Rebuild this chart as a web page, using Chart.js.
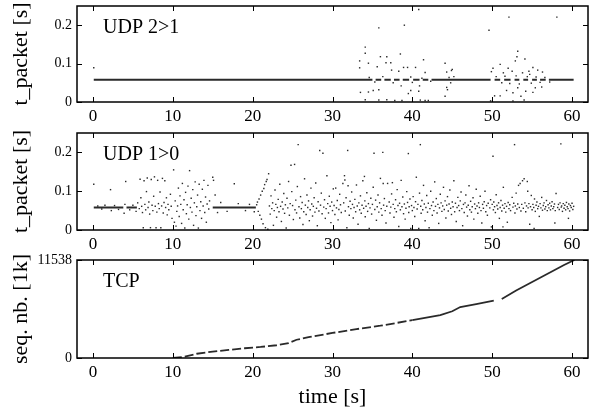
<!DOCTYPE html>
<html>
<head>
<meta charset="utf-8">
<script src="https://cdn.jsdelivr.net/npm/chart.js@4.4.0/dist/chart.umd.min.js"></script>
<style>
  html, body { margin:0; padding:0; background:#fff; }
  #wrap { position:relative; width:589px; height:412px; }
  canvas { position:absolute; left:0; }
</style>
</head>
<body>
<div id="wrap">
  <canvas id="c1" width="589" height="128" style="top:0"></canvas>
  <canvas id="c2" width="589" height="128" style="top:128px"></canvas>
  <canvas id="c3" width="589" height="168" style="top:244px"></canvas>
</div>
<script>
// time axis, shared by all three panels
const timeTicks = [0, 10, 20, 30, 40, 50, 60];
const timeMin = -2, timeMax = 62;

// ---- UDP 2>1 : packet inter-arrival time [s]
const udp21Level = 0.058;
const udp21Segments = [[0.1, 35.0], [35.4, 36.1], [36.5, 37.3], [37.7, 38.4], [38.8, 39.6], [40.1, 40.9], [41.3, 42.0], [42.4, 49.8],
  [50.3, 51.0], [51.5, 52.3], [52.8, 53.4], [53.9, 54.5], [55.0, 55.6], [56.0, 56.7], [57.1, 60.2]];
const udp21Points = [[0.1,0.089],
  [33.4,0.107],[33.4,0.089],[33.5,0.025],[34.1,0.143],[34.1,0.127],[34.5,0.101],[34.5,0.026],[34.1,0.006],[35.1,0.03],[35.6,0.092],
  [35.8,0.193],[35.8,0.032],[35.8,0.005],[36.0,0.118],[36.7,0.102],[36.8,0.118],[36.8,0.006],[37.3,0.102],[37.4,0.083],[37.8,0.004],
  [38.3,0.08],[38.5,0.125],[38.6,0.042],[38.7,0.004],[38.9,0.09],[39.0,0.2],[39.4,0.09],[39.5,0.022],[39.8,0.03],[40.4,0.09],
  [40.8,0.241],[40.8,0.028],[40.9,0.042],[41.4,0.11],[41.6,0.077],[41.0,0.005],[41.6,0.004],[42.0,0.004],[44.1,0.101],[44.3,0.078],
  [44.3,0.038],[44.4,0.032],[44.1,0.015],[44.9,0.082],[45.0,0.085],
  [34.6,0.064],[35.3,0.052],[36.3,0.066],[37.6,0.05],[39.8,0.065],[40.0,0.051],[41.2,0.062],[42.3,0.054],[44.6,0.064],[44.8,0.05],[45.2,0.066],
  [49.6,0.187],[49.8,0.003],[49.9,0.079],[50.1,0.088],[50.3,0.016],[51.0,0.098],[51.0,0.016],[51.4,0.076],[51.8,0.03],[52.0,0.088],
  [52.1,0.221],[52.5,0.08],[52.6,0.024],[52.6,0.003],[52.9,0.107],[53.1,0.118],[53.2,0.132],[53.2,0.037],[53.6,0.015],[53.8,0.076],
  [54.0,0.005],[54.1,0.112],[54.2,0.028],[54.6,0.08],[54.7,0.072],[55.1,0.09],[55.1,0.025],[55.4,0.037],[55.7,0.083],[56.2,0.039],
  [56.3,0.078],[58.1,0.221],
  [50.5,0.066],[51.2,0.05],[51.6,0.067],[52.2,0.048],[53.0,0.068],[53.4,0.047],[54.4,0.066],[54.9,0.049],[55.5,0.065],[56.0,0.051],
  [56.6,0.064],[57.2,0.052]];

// ---- UDP 1>0
const udp10Level = 0.058;
const udp10Segments = [[0.1, 3.8], [4.2, 5.5], [15.0, 20.4]];
const udp10Early = [[0.1,0.118],[0.6,0.062],[1.1,0.054],[1.5,0.064],[2.2,0.104],[2.3,0.05],[2.7,0.063],[3.2,0.053],[3.9,0.043],[4.0,0.066],
  [4.1,0.125],[4.6,0.052],[5.0,0.064],[5.4,0.048],[5.6,0.07],[5.8,0.055],[5.9,0.131],[6.0,0.083],[6.1,0.061],[6.2,0.045],[6.3,0.006],
  [6.4,0.127],[6.5,0.066],[6.6,0.052],[6.7,0.099],[6.8,0.134],[6.9,0.058],[7.0,0.072],[7.1,0.041],[7.2,0.006],[7.3,0.13],[7.4,0.064],
  [7.5,0.05],[7.6,0.087],[7.7,0.137],[7.8,0.061],[7.9,0.006],[8.0,0.046],[8.1,0.128],[8.2,0.068],[8.3,0.055],[8.4,0.098],[8.5,0.006],
  [8.6,0.062],[8.7,0.133],[8.8,0.044],[8.9,0.071],[9.0,0.127],[9.1,0.058],[9.2,0.083],[9.3,0.039],[9.4,0.066],[9.5,0.052],[9.7,0.092],
  [9.8,0.061],[9.9,0.03]];
const udp10Mid = [[10.1,0.155],[10.2,0.02],[10.3,0.075],[10.4,0.01],[10.5,0.048],[10.6,0.062],[10.7,0.108],[10.8,0.035],[10.9,0.088],
  [11.0,0.066],[11.1,0.017],[11.2,0.12],[11.3,0.052],[11.4,0.078],[11.5,0.005],[11.6,0.097],[11.7,0.042],[11.8,0.065],[11.9,0.113],
  [12.0,0.028],[12.1,0.153],[12.2,0.058],[12.3,0.082],[12.4,0.046],[12.5,0.104],[12.6,0.012],[12.7,0.07],[12.8,0.124],[12.9,0.037],
  [13.0,0.06],[13.1,0.09],[13.2,0.005],[13.3,0.118],[13.4,0.05],[13.5,0.073],[13.6,0.03],[13.7,0.105],[13.8,0.062],[13.9,0.128],
  [14.0,0.045],[14.1,0.085],[14.2,0.02],[14.3,0.067],[14.4,0.115],[14.5,0.054],[14.6,0.075],
  [15.0,0.136],[15.1,0.128],[15.3,0.09],[15.6,0.045],[16.0,0.071],[16.8,0.048],[17.7,0.119],[18.2,0.068],[19.1,0.05],[19.6,0.066],[20.2,0.047],
  [20.5,0.065],[20.6,0.072],[20.7,0.048],[20.8,0.08],[20.9,0.038],[21.0,0.09],[21.1,0.028],[21.2,0.1],[21.3,0.016],[21.4,0.107],
  [21.5,0.117],[21.6,0.006],[21.7,0.125],[21.8,0.13],[21.9,0.002],[22.0,0.145]];
const udp10Late = [[22.1,0.062],[22.2,0.041],[22.3,0.088],[22.4,0.055],[22.5,0.07],[22.6,0.012],[22.7,0.05],[22.8,0.103],[22.9,0.066],
  [23.0,0.033],[23.1,0.058],[23.2,0.079],[23.3,0.047],[23.4,0.118],[23.5,0.061],[23.6,0.022],[23.7,0.072],[23.8,0.054],[23.9,0.094],
  [24.0,0.043],[24.1,0.065],[24.2,0.005],[24.3,0.082],[24.4,0.057],[24.5,0.125],[24.6,0.038],[24.7,0.068],[24.8,0.167],[24.9,0.099],
  [25.0,0.063],[25.1,0.027],[25.25,0.169],[25.3,0.052],[25.4,0.077],[25.5,0.044],[25.7,0.22],[25.6,0.112],[25.8,0.06],[25.9,0.031],
  [26.0,0.086],[26.1,0.055],[26.2,0.071],[26.3,0.014],[26.4,0.047],[26.5,0.132],[26.6,0.064],[26.7,0.04],[26.8,0.09],[26.9,0.058],
  [27.0,0.075],[27.1,0.024],[27.2,0.052],[27.3,0.108],[27.4,0.067],[27.5,0.036],[27.6,0.061],[27.7,0.083],[27.8,0.046],[27.9,0.121],
  [28.0,0.056],[28.1,0.011],[28.2,0.073],[28.3,0.049],[28.4,0.205],[28.5,0.064],[28.6,0.095],[28.7,0.042],[28.8,0.198],[28.9,0.059],
  [29.0,0.078],[29.1,0.03],[29.2,0.055],[29.3,0.14],[29.4,0.068],[29.5,0.044],[29.6,0.087],[29.7,0.061],[29.8,0.019],[29.9,0.072],
  [30.0,0.05],[30.1,0.106],[30.2,0.063],[30.3,0.04],[30.4,0.108],[30.5,0.057],[30.6,0.076],[30.7,0.026],[30.8,0.053],[30.9,0.092],
  [31.0,0.065],[31.1,0.045],[31.3,0.12],[31.4,0.07],[31.5,0.14],[31.55,0.129],[31.6,0.049],[31.7,0.083],[31.8,0.006],[31.9,0.205],
  [31.95,0.114],[32.0,0.06],[32.1,0.038],[32.2,0.074],[32.3,0.055],[32.4,0.098],[32.5,0.066],[32.6,0.031],[32.7,0.058],[32.8,0.079],
  [32.9,0.047],[33.0,0.116],[33.1,0.062],[33.2,0.015],[33.3,0.07],[33.4,0.052],[33.5,0.088],[33.6,0.043],[33.7,0.064],[33.8,0.127],
  [33.9,0.056],[34.0,0.138],[34.05,0.075],[34.1,0.034],[34.2,0.061],[34.3,0.096],[34.4,0.048],[34.5,0.068],[34.6,0.004],[34.7,0.057],
  [34.8,0.082],[34.9,0.041],[35.0,0.066],[35.1,0.11],[35.2,0.198],[35.3,0.053],[35.4,0.077],[35.5,0.025],[35.6,0.06],[35.7,0.09],
  [35.8,0.046],[35.9,0.07],[36.0,0.133],[36.1,0.055],[36.2,0.038],[36.3,0.2],[36.35,0.12],[36.4,0.064],[36.5,0.081],[36.6,0.05],
  [36.7,0.018],[36.8,0.061],[36.9,0.12],[37.1,0.072],[37.2,0.044],[37.3,0.059],[37.4,0.093],[37.5,0.122],[37.6,0.066],[37.7,0.033],
  [37.8,0.055],[37.9,0.078],[38.0,0.047],[38.1,0.104],[38.2,0.063],[38.3,0.009],[38.4,0.069],[38.5,0.052],[38.6,0.128],[38.7,0.06],
  [38.8,0.085],[38.9,0.042],[39.0,0.067],[39.1,0.028],[39.2,0.056],[39.3,0.099],[39.4,0.071],[39.5,0.197],[39.55,0.045],[39.6,0.06],
  [39.7,0.08],[39.8,0.004],[39.9,0.063],[40.0,0.05],[40.1,0.086],[40.2,0.058],[40.3,0.035],[40.4,0.073],[40.5,0.136],[40.6,0.054],
  [40.7,0.066],[40.8,0.004],[40.9,0.095],[41.0,0.22],[41.05,0.061],[41.1,0.043],[41.2,0.076],[41.3,0.052],[41.4,0.115],[41.5,0.067],
  [41.6,0.024],[41.7,0.058],[41.8,0.089],[41.9,0.046],[42.0,0.069],[42.1,0.006],[42.2,0.055],[42.3,0.1],[42.4,0.063],[42.5,0.038],
  [42.6,0.072],[42.7,0.05],[42.8,0.124],[42.9,0.061],[43.0,0.081],[43.1,0.044],[43.2,0.066],[43.3,0.017],[43.4,0.057],[43.5,0.092],
  [43.6,0.07],[43.7,0.048],[43.8,0.062],[43.9,0.11],[44.0,0.053],[44.1,0.075],[44.2,0.031],[44.3,0.064],[44.4,0.086],[44.5,0.049],
  [44.6,0.067],[44.7,0.103],[44.8,0.056],[44.9,0.04],[45.0,0.072],[45.1,0.06],[45.2,0.127],[45.3,0.047],[45.4,0.069],[45.5,0.022],
  [45.6,0.058],[45.7,0.084],[45.8,0.063],[45.9,0.05],[46.0,0.075],[46.1,0.098],[46.2,0.055],[46.3,0.011],[46.4,0.066],[46.5,0.045],
  [46.6,0.07],[46.7,0.09],[46.8,0.059],[46.9,0.036],[47.0,0.064],[47.1,0.114],[47.2,0.052],[47.3,0.074],[47.4,0.046],[47.5,0.06],
  [47.6,0.083],[47.7,0.028],[47.8,0.067],[47.9,0.055],[48.0,0.105],[48.1,0.062],[48.2,0.043],[48.3,0.07],[48.4,0.058],[48.5,0.087],
  [48.6,0.05],[48.7,0.018],[48.8,0.066],[48.9,0.056],[49.0,0.073],[49.1,0.1],[49.2,0.047],[49.3,0.063],[49.4,0.038],[49.5,0.069],
  [49.7,0.057],[49.8,0.078],[49.9,0.008]];
const udp10Tail = [[50.0,0.066],[50.1,0.19],[50.15,0.052],[50.2,0.072],[50.3,0.06],[50.4,0.045],[50.5,0.091],[50.6,0.063],[50.7,0.054],
  [50.8,0.07],[50.9,0.03],[51.0,0.058],[51.1,0.076],[51.2,0.049],[51.3,0.064],[51.35,0.008],[51.4,0.11],[51.5,0.056],[51.6,0.068],
  [51.7,0.046],[51.8,0.061],[51.9,0.02],[52.0,0.071],[52.1,0.055],[52.2,0.065],[52.3,0.05],[52.5,0.084],[52.6,0.059],[52.7,0.069],
  [52.8,0.22],[52.85,0.044],[52.9,0.062],[53.0,0.095],[53.1,0.054],[53.2,0.067],[53.3,0.115],[53.4,0.058],[53.5,0.12],[53.6,0.049],
  [53.7,0.066],[53.8,0.127],[53.9,0.056],[54.0,0.132],[54.1,0.07],[54.2,0.047],[54.3,0.062],[54.4,0.125],[54.45,0.1],[54.5,0.057],
  [54.6,0.068],[54.7,0.015],[54.8,0.06],[54.9,0.089],[55.0,0.052],[55.1,0.066],[55.2,0.058],[55.25,0.004],[55.3,0.08],[55.4,0.048],
  [55.5,0.064],[55.6,0.072],[55.7,0.055],[55.8,0.061],[55.9,0.035],[56.0,0.068],[56.1,0.057],[56.2,0.084],[56.3,0.051],[56.4,0.063],
  [56.5,0.07],[56.6,0.054],[56.7,0.06],[56.8,0.076],[56.9,0.05],[57.0,0.065],[57.1,0.057],[57.2,0.069],[57.3,0.052],[57.4,0.062],
  [57.5,0.073],[57.6,0.055],[57.7,0.06],[57.8,0.067],[57.85,0.018],[57.9,0.05],[58.0,0.094],[58.2,0.058],[58.3,0.066],[58.4,0.053],
  [58.5,0.07],[58.6,0.222],[58.65,0.059],[58.7,0.062],[58.8,0.048],[58.9,0.068],[59.0,0.056],[59.1,0.064],[59.2,0.052],[59.3,0.071],
  [59.4,0.06],[59.5,0.055],[59.55,0.03],[59.6,0.067],[59.7,0.049],[59.8,0.063],[59.9,0.058],[60.0,0.069],[60.1,0.053],[60.2,0.061]];

// ---- TCP sequence number [1k]
const tcpMax = 11538;
const tcpTime = [10, 11.5, 13, 15, 17, 19, 21, 23, 24.5, 25.5, 27, 30, 33, 36, 40, 43.5, 45, 46, 48, 50.2, 50.7, 51.2, 53, 55, 57, 59, 60.3];
const tcpSeq  = [0, 150, 500, 750, 950, 1150, 1300, 1500, 1750, 2150, 2450, 2950, 3400, 3800, 4450, 5050, 5500, 6000, 6350, 6750, null, 6950, 7950, 8950, 9950, 10950, 11538];

const FONT = "'Liberation Serif', 'Times New Roman', serif";
const INK = '#2a2a2a';

function toXY(list) { return list.map(([x, y]) => ({ x, y })); }
function segmentsToLine(segs, level) {
  const pts = [];
  segs.forEach(([a, b]) => { pts.push({ x: a, y: level }, { x: b, y: level }, { x: b, y: null }); });
  return pts;
}

// box + inward ticks (gnuplot look) + panel label
const framePlugin = {
  id: 'frame',
  afterDraw(chart, args, opts) {
    const { ctx, chartArea: a, scales } = chart;
    ctx.save();
    ctx.strokeStyle = '#000';
    ctx.lineWidth = 1;
    ctx.beginPath();
    scales.x.ticks.forEach(t => {
      const px = Math.round(scales.x.getPixelForValue(t.value)) + 0.5;
      ctx.moveTo(px, a.bottom); ctx.lineTo(px, a.bottom - 5);
      ctx.moveTo(px, a.top); ctx.lineTo(px, a.top + 5);
    });
    scales.y.ticks.forEach(t => {
      const py = Math.round(scales.y.getPixelForValue(t.value)) + 0.5;
      ctx.moveTo(a.left, py); ctx.lineTo(a.left + 5, py);
      ctx.moveTo(a.right, py); ctx.lineTo(a.right - 5, py);
    });
    ctx.stroke();
    ctx.lineWidth = 1.5;
    ctx.strokeRect(a.left, a.top, a.width, a.height);
    ctx.fillStyle = '#000';
    ctx.font = '20px ' + FONT;
    ctx.textBaseline = 'alphabetic';
    ctx.fillText(opts.label, a.left + 26, a.top + 27);
    ctx.restore();
  }
};

function xScale(title) {
  return {
    type: 'linear', min: timeMin, max: timeMax,
    grid: { display: false, drawTicks: false },
    border: { display: false },
    afterBuildTicks: s => { s.ticks = timeTicks.map(v => ({ value: v })); },
    afterFit: s => { s.height = title ? 54 : 26; s.paddingLeft = 0; s.paddingRight = 0; },
    ticks: { color: '#000', font: { family: FONT, size: 17 }, padding: 4, maxRotation: 0 },
    title: title ? { display: true, text: title, color: '#000', font: { family: FONT, size: 22 }, padding: { top: 0, bottom: 2 } } : { display: false }
  };
}

function yScale(title, extra) {
  return Object.assign({
    type: 'linear',
    grid: { display: false, drawTicks: false },
    border: { display: false },
    afterFit: s => { s.width = 77; s.paddingTop = 0; s.paddingBottom = 0; },
    title: { display: true, text: title, color: '#000', font: { family: FONT, size: 22 }, padding: { top: 8, bottom: 0 } }
  }, extra);
}

const udpY = {
  min: 0, max: 0.25,
  ticks: {
    stepSize: 0.05, color: '#000', font: { family: FONT, size: 14 }, padding: 5,
    callback: v => (Math.round(v * 100) % 10 === 0 && v < 0.25) ? String(Math.round(v * 10) / 10) : ''
  }
};

const pointStyle = { pointStyle: 'rect', pointRadius: 1, pointBorderWidth: 0, backgroundColor: INK, borderColor: INK, showLine: false };

function baseOptions(topPad, label, xs, ys) {
  return {
    responsive: false, animation: false,
    layout: { autoPadding: false, padding: { top: topPad, right: 1, left: 0, bottom: 0 } },
    plugins: { legend: { display: false }, tooltip: { enabled: false }, frame: { label } },
    scales: { x: xs, y: ys }
  };
}

new Chart(document.getElementById('c1'), {
  type: 'scatter',
  data: { datasets: [
    { data: segmentsToLine(udp21Segments, udp21Level), showLine: true, borderColor: INK, borderWidth: 2, pointRadius: 0 },
    Object.assign({ data: toXY(udp21Points) }, pointStyle)
  ] },
  options: baseOptions(6, 'UDP 2>1', xScale(null), yScale('t_packet [s]', udpY)),
  plugins: [framePlugin]
});

new Chart(document.getElementById('c2'), {
  type: 'scatter',
  data: { datasets: [
    { data: segmentsToLine(udp10Segments, udp10Level), showLine: true, borderColor: INK, borderWidth: 2, pointRadius: 0 },
    Object.assign({ data: toXY(udp10Early.concat(udp10Mid, udp10Late, udp10Tail)) }, pointStyle)
  ] },
  options: baseOptions(5, 'UDP 1>0', xScale(null), yScale('t_packet [s]', udpY)),
  plugins: [framePlugin]
});

new Chart(document.getElementById('c3'), {
  type: 'scatter',
  data: { datasets: [
    { data: tcpTime.map((t, i) => ({ x: t, y: tcpSeq[i] })), showLine: true, borderColor: INK, borderWidth: 1.8, pointRadius: 0,
      segment: { borderDash: c => c.p0.parsed.x < 40 ? [9, 3] : undefined } }
  ] },
  options: baseOptions(16, 'TCP', xScale('time [s]'), yScale('seq. nb. [1k]', {
    min: 0, max: tcpMax,
    afterBuildTicks: s => { s.ticks = [{ value: 0 }, { value: tcpMax }]; },
    ticks: { color: '#000', font: { family: FONT, size: 14 }, padding: 5, callback: v => String(v) }
  })),
  plugins: [framePlugin]
});
</script>
</body>
</html>
